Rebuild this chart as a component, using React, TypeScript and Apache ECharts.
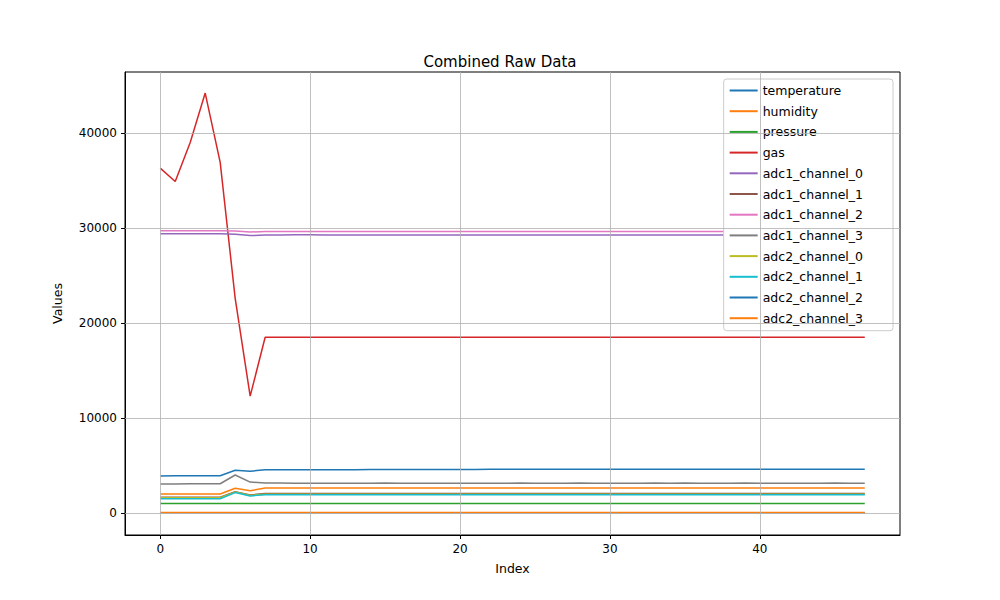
import React, { useEffect, useRef } from "react";
import * as echarts from "echarts";

const indices = Array.from({ length: 48 }, (_, i) => i);
const seriesNames = ["temperature","humidity","pressure","gas","adc1_channel_0","adc1_channel_1","adc1_channel_2","adc1_channel_3","adc2_channel_0","adc2_channel_1","adc2_channel_2","adc2_channel_3"];
const colors = ["#1f77b4","#ff7f0e","#2ca02c","#d62728","#9467bd","#8c564b","#e377c2","#7f7f7f","#bcbd22","#17becf","#1f77b4","#ff7f0e"];

const temperature = [25,25,25,25,25,26,26,26,26,26,26,26,26,26,26,26,26,26,26,26,26,26,26,26,26,26,26,26,26,26,26,26,26,26,26,26,26,26,26,26,26,26,26,26,26,26,26,26];
const humidity = [45,45,45,45,45,44,44,44,44,44,44,44,44,44,44,44,44,44,44,44,44,44,44,44,44,44,44,44,44,44,44,44,44,44,44,44,44,44,44,44,44,44,44,44,44,44,44,44];
const pressure = [1000,1000,1000,1000,1000,1000,1000,1000,1000,1000,1000,1000,1000,1000,1000,1000,1000,1000,1000,1000,1000,1000,1000,1000,1000,1000,1000,1000,1000,1000,1000,1000,1000,1000,1000,1000,1000,1000,1000,1000,1000,1000,1000,1000,1000,1000,1000,1000];
const gas = [36300,34900,39000,44200,36900,22600,12300,18500,18500,18500,18500,18500,18500,18500,18500,18500,18500,18500,18500,18500,18500,18500,18500,18500,18500,18500,18500,18500,18500,18500,18500,18500,18500,18500,18500,18500,18500,18500,18500,18500,18500,18500,18500,18500,18500,18500,18500,18500];
const adc1_channel_0 = [29400,29400,29400,29400,29400,29350,29200,29250,29250,29280,29280,29250,29250,29260,29260,29250,29250,29250,29250,29260,29260,29260,29250,29250,29260,29260,29250,29250,29250,29260,29260,29260,29250,29250,29260,29260,29250,29250,29250,29260,29260,29260,29250,29250,29260,29260,29250,29250];
const adc1_channel_1 = [1650,1650,1650,1650,1650,2250,1900,2050,2050,2050,2050,2050,2050,2050,2050,2050,2050,2050,2050,2050,2050,2050,2050,2050,2050,2050,2050,2050,2050,2050,2050,2050,2050,2050,2050,2050,2050,2050,2050,2050,2050,2050,2050,2050,2050,2050,2050,2050];
const adc1_channel_2 = [29700,29700,29700,29700,29700,29680,29580,29620,29620,29630,29630,29620,29620,29620,29630,29630,29620,29620,29620,29630,29630,29620,29620,29620,29630,29630,29620,29620,29620,29630,29630,29620,29620,29620,29630,29630,29620,29620,29620,29630,29630,29620,29620,29620,29630,29630,29620,29620];
const adc1_channel_3 = [3050,3050,3080,3080,3080,4000,3250,3150,3150,3120,3120,3120,3130,3130,3120,3150,3130,3120,3120,3130,3130,3120,3130,3120,3150,3130,3130,3130,3150,3130,3130,3130,3130,3150,3130,3150,3130,3130,3130,3150,3130,3130,3130,3130,3130,3150,3130,3130];
const adc2_channel_0 = [1600,1600,1600,1600,1600,2200,1850,1980,1980,1980,1980,1980,1980,1980,1980,1980,1980,1980,1980,1980,1980,1980,1980,1980,1980,1980,1980,1980,1980,1980,1980,1980,1980,1980,1980,1980,1980,1980,1980,1980,1980,1980,1980,1980,1980,1980,1980,1980];
const adc2_channel_1 = [1500,1500,1500,1500,1500,2150,1800,1930,1930,1930,1930,1930,1930,1930,1930,1930,1930,1930,1930,1930,1930,1930,1930,1930,1930,1930,1930,1930,1930,1930,1930,1930,1930,1930,1930,1930,1930,1930,1930,1930,1930,1930,1930,1930,1930,1930,1930,1930];
const adc2_channel_2 = [3900,3920,3920,3920,3920,4500,4400,4550,4550,4550,4550,4550,4560,4560,4570,4570,4580,4580,4580,4590,4590,4590,4600,4600,4600,4600,4600,4600,4610,4610,4610,4610,4610,4610,4610,4600,4600,4600,4600,4600,4600,4600,4600,4600,4600,4600,4600,4600];
const adc2_channel_3 = [2000,2000,2000,2000,2000,2600,2350,2630,2630,2630,2630,2630,2630,2630,2630,2630,2630,2630,2630,2630,2630,2630,2630,2630,2630,2630,2630,2630,2630,2630,2630,2630,2630,2630,2630,2630,2630,2630,2630,2630,2630,2630,2630,2630,2630,2630,2630,2630];
const seriesData = [temperature,humidity,pressure,gas,adc1_channel_0,adc1_channel_1,adc1_channel_2,adc1_channel_3,adc2_channel_0,adc2_channel_1,adc2_channel_2,adc2_channel_3];

const xTicks = [0, 10, 20, 30, 40];
const yTicks = [0, 10000, 20000, 30000, 40000];

export default function App() {
  const ref = useRef<HTMLDivElement>(null);
  useEffect(() => {
    document.body.style.margin = "0";
    const chart = echarts.init(ref.current!, null, { renderer: "svg" });
    const font = "DejaVu Sans";
    const series: any[] = seriesNames.map((n, i) => ({
      name: n, type: "line", showSymbol: false, symbol: "none",
      data: indices.map((x, j) => [x, seriesData[i][j]]),
      lineStyle: { width: 1.5, color: colors[i] }, itemStyle: { color: colors[i] }, z: 3,
    }));
    series.push({
      type: "line", data: [], silent: true, z: 1,
      markLine: {
        silent: true, symbol: "none", label: { show: false },
        lineStyle: { color: "#b0b0b0", width: 0.8, type: "solid" },
        data: [...xTicks.map((x) => ({ xAxis: x })), ...yTicks.map((y) => ({ yAxis: y }))],
      },
    });
    chart.setOption({
      animation: false,
      title: { text: "Combined Raw Data", left: "center", top: 49, textStyle: { fontFamily: font, fontSize: 15, fontWeight: "normal", color: "#000" } },
      grid: { left: 125, right: 100, top: 72, bottom: 65 },
      legend: {
        orient: "vertical", right: 107, top: 79, data: seriesNames, icon: "rect", itemWidth: 28, itemHeight: 2,
        itemGap: 7.7, backgroundColor: "#fff", borderColor: "#ccc", borderWidth: 1, borderRadius: 3, padding: [5, 30, 6, 6],
        textStyle: { fontFamily: font, fontSize: 12.5, color: "#000" },
      },
      xAxis: {
        type: "value", min: -2.35, max: 49.35, name: "Index", nameLocation: "middle", nameGap: 27,
        nameTextStyle: { fontFamily: font, fontSize: 12.5, color: "#000" },
        axisLine: { onZero: false, lineStyle: { color: "#000" } }, splitLine: { show: false },
        axisTick: { customValues: xTicks, length: 4, lineStyle: { color: "#000" } },
        axisLabel: { customValues: xTicks, fontFamily: font, fontSize: 12, color: "#000" },
      },
      yAxis: {
        type: "value", min: -2316, max: 46420, name: "Values", nameLocation: "middle", nameGap: 61,
        nameTextStyle: { fontFamily: font, fontSize: 12.5, color: "#000" },
        axisLine: { show: true, onZero: false, lineStyle: { color: "#000" } }, splitLine: { show: false },
        axisTick: { show: true, customValues: yTicks, length: 4, lineStyle: { color: "#000" } },
        axisLabel: { customValues: yTicks, formatter: (v: number) => String(v), fontFamily: font, fontSize: 12, color: "#000" },
      },
      series,
    });
    chart.setOption({ graphic: [{ type: "rect", shape: { x: 125, y: 72, width: 775, height: 463 }, style: { fill: "none", stroke: "#000", lineWidth: 1 }, silent: true, z: 0 }] });
    return () => chart.dispose();
  }, []);
  return <div ref={ref} style={{ width: 1000, height: 600 }} />;
}
